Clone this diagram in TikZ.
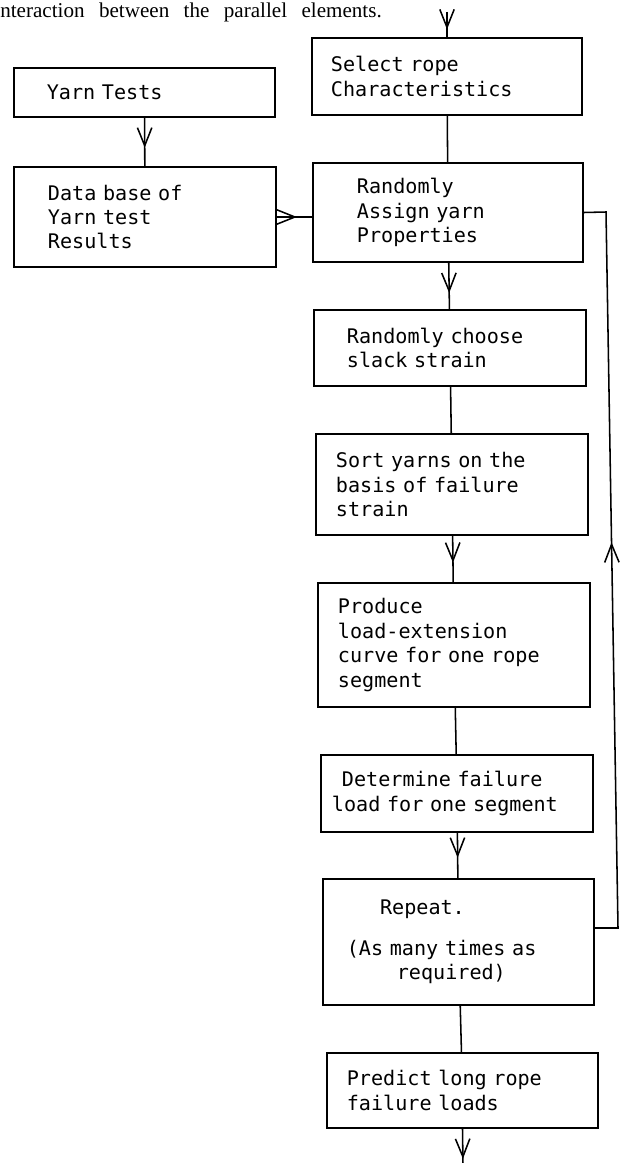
\documentclass[tikz,border=0pt]{standalone}
\usepackage{fontspec}
\usetikzlibrary{arrows.meta, decorations.markings}
\newfontfamily\typewriter{DejaVu Sans Mono}
\newfontfamily\bodyserif{Liberation Serif}
\newcommand\boxfont{\typewriter\fontsize{14.3}{17.4}\selectfont}
\tikzset{
  >={Straight Barb[length=4.5mm, width=3.6mm]},
  stepbox/.style={rectangle, draw, line width=1.1pt, align=left,
    font=\boxfont, inner sep=0pt},
  line/.style={line width=1.1pt},
  flow/.style={line, postaction={decorate},
    decoration={markings, mark=at position #1 with {\arrow{>}}}}
}
\begin{document}
\begin{tikzpicture}[x=0.025cm, y=-0.025cm]
  \useasboundingbox (0,0) rectangle (624,1163);
  \node[anchor=base west, inner sep=0pt, font=\bodyserif\fontsize{15}{18}\selectfont] (head) at (0,18)
    {\spaceskip=0.36cm nteraction between the parallel elements.};

  % left column
  \node[stepbox, minimum width=6.53cm, minimum height=1.22cm, text width=4.88cm] (yarn) at (144.5,92.5) {Yarn Tests};
  \node[stepbox, minimum width=6.55cm, minimum height=2.5cm, text width=4.85cm] (data) at (145,217) {Data base of\\Yarn test\\Results};

  % main column
  \node[stepbox, minimum width=6.75cm, minimum height=1.92cm, text width=5.8cm] (select) at (447,76.5) {Select rope\\Characteristics};
  \node[stepbox, minimum width=6.75cm, minimum height=2.48cm, text width=4.55cm] (assign) at (448,212.5) {Randomly\\Assign yarn\\Properties};
  \node[stepbox, minimum width=6.8cm, minimum height=1.9cm, text width=5.15cm] (choose) at (450,348) {Randomly choose\\slack strain};
  \node[stepbox, minimum width=6.8cm, minimum height=2.52cm, text width=5.8cm] (sort) at (452,484.5) {Sort yarns on the\\basis of failure\\strain};
  \node[stepbox, minimum width=6.8cm, minimum height=3.1cm, text width=5.8cm] (produce) at (454,645) {Produce\\load-extension\\curve for one rope\\segment};
  \node[stepbox, minimum width=6.8cm, minimum height=1.92cm, text width=6.25cm] (determine) at (457,793.5) {\hspace*{0.25cm}Determine failure\\load for one segment};
  \node[stepbox, minimum width=6.78cm, minimum height=3.15cm, text width=5.58cm] (repeat) at (458.5,942) {\hspace*{0.83cm}Repeat.\\[0.39cm](As many times as\\\hspace*{1.25cm}required)};
  \node[stepbox, minimum width=6.78cm, minimum height=1.88cm, text width=5.78cm] (predict) at (462.5,1090.5) {Predict long rope\\failure loads};

  \coordinate (in) at (447,12);
  \coordinate (out) at (463,1165);
  \coordinate (fbbot) at (618,928);
  \coordinate (fbtop) at (606,212);

  % connectors
  \draw[flow=0.69] (in) -- (select.north);
  \draw[line] (select) -- (assign);
  \draw[flow=0.62] (yarn) -- (data);
  \draw[flow=0.57] (data) -- (data -| assign.west);
  \draw[flow=0.65] (assign) -- (choose);
  \draw[line] (choose) -- (sort);
  \draw[flow=0.58] (sort) -- (produce);
  \draw[line] (produce) -- (determine);
  \draw[flow=0.55] (determine) -- (repeat);
  \draw[line] (repeat) -- (predict);
  \draw[flow=0.83] (predict.south) -- (out);

  % repeat loop
  \draw[flow=0.537] ([yshift=0.35cm]repeat.east) -- (fbbot) -- (fbtop) -- (assign.east);
\end{tikzpicture}
\end{document}
